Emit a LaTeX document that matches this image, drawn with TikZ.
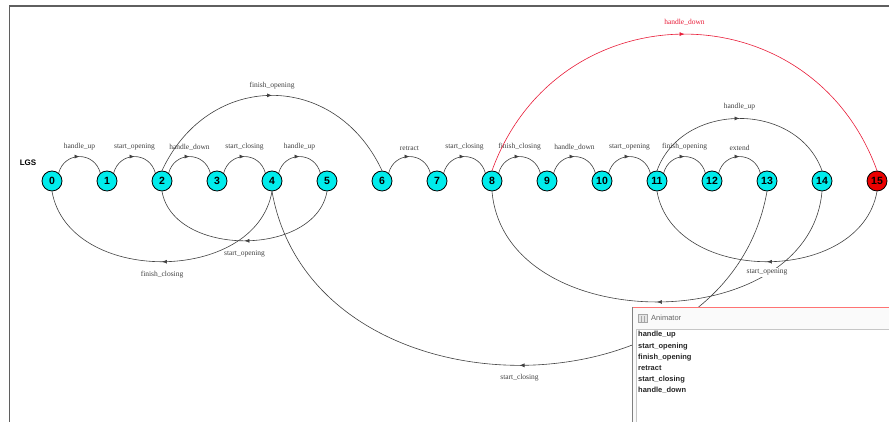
\documentclass[tikz,border=0pt]{standalone}
\usepackage{fontspec}
\setmainfont{Liberation Serif}
\setsansfont{Liberation Sans}
\usetikzlibrary{arrows.meta,decorations.markings}

\definecolor{lgsred}{RGB}{232,28,56}
\definecolor{statecyan}{RGB}{0,236,236}
\definecolor{statered}{RGB}{235,0,0}
\definecolor{framegray}{RGB}{95,95,95}
\newcommand{\lblsize}{\fontsize{7.5}{8}\selectfont}

\tikzset{
    state/.style={circle, draw=black, line width=0.8pt, fill=statecyan, minimum size=20pt, inner sep=0pt,
        font=\sffamily\bfseries\fontsize{10.5}{10.5}\selectfont},
    edge/.style={color=black!75, line width=0.6pt, postaction={decorate},
        decoration={markings, mark=at position 0.5 with {\arrow{Latex[length=5pt,width=4pt]}}}},
    lbl/.style={font=\lblsize, inner sep=1pt},
    listitem/.style={anchor=west, inner sep=0pt, text=black!85,
        font=\sffamily\bfseries\fontsize{7.5}{8}\selectfont}
}

\begin{document}
\begin{tikzpicture}[x=1pt, y=1pt]
        \useasboundingbox (0,0) rectangle (889,422);
        \draw[framegray, line width=1.5pt]
        (889,416) -- (9.5,416) -- (9.5,0);

        \node[font=\sffamily\bfseries\fontsize{8}{8}\selectfont] (lgs) at (28,259) {LGS};

        \node[state] (s0) at (52,241) {0};
        \node[state] (s1) at (107,241) {1};
        \node[state] (s2) at (162,241) {2};
        \node[state] (s3) at (217,241) {3};
        \node[state] (s4) at (272,241) {4};
        \node[state] (s5) at (327,241) {5};
        \node[state] (s6) at (382,241) {6};
        \node[state] (s7) at (437,241) {7};
        \node[state] (s8) at (492,241) {8};
        \node[state] (s9) at (547,241) {9};
        \node[state] (s10) at (602,241) {10};
        \node[state] (s11) at (657,241) {11};
        \node[state] (s12) at (712,241) {12};
        \node[state] (s13) at (767,241) {13};
        \node[state] (s14) at (822,241) {14};
        \node[state, fill=statered] (s15) at (877,241) {15};

        \draw[edge]
        (s0.50) to[out=75, in=105, looseness=1.4] node[lbl, above=5pt] {handle\_up} (s1.130);
        \draw[edge]
        (s1.50) to[out=75, in=105, looseness=1.4] node[lbl, above=5pt] {start\_opening} (s2.130);
        \draw[edge]
        (s2.50) to[out=75, in=105, looseness=1.4] node[lbl, above=5pt] {handle\_down} (s3.130);
        \draw[edge]
        (s3.50) to[out=75, in=105, looseness=1.4] node[lbl, above=5pt] {start\_closing} (s4.130);
        \draw[edge]
        (s4.50) to[out=75, in=105, looseness=1.4] node[lbl, above=5pt] {handle\_up} (s5.130);
        \draw[edge]
        (s6.50) to[out=75, in=105, looseness=1.4] node[lbl, above=5pt] {retract} (s7.130);
        \draw[edge]
        (s7.50) to[out=75, in=105, looseness=1.4] node[lbl, above=5pt] {start\_closing} (s8.130);
        \draw[edge]
        (s8.50) to[out=75, in=105, looseness=1.4] node[lbl, above=5pt] {finish\_closing} (s9.130);
        \draw[edge]
        (s9.50) to[out=75, in=105, looseness=1.4] node[lbl, above=5pt] {handle\_down} (s10.130);
        \draw[edge]
        (s10.50) to[out=75, in=105, looseness=1.4] node[lbl, above=5pt] {start\_opening} (s11.130);
        \draw[edge]
        (s11.50) to[out=75, in=105, looseness=1.4] node[lbl, above=5pt] {finish\_opening} (s12.130);
        \draw[edge]
        (s12.50) to[out=75, in=105, looseness=1.4] node[lbl, above=5pt] {extend} (s13.130);

        \draw[edge]
        (s2.north) to[out=65, in=115, looseness=1.29] node[lbl, above=5pt] {finish\_opening} (s6.north);
        \draw[edge]
        (s11.north) to[out=70, in=110, looseness=1.15] node[lbl, above=7pt] {handle\_up} (s14.north);
        \draw[edge, color=lgsred]
        (s8.north) to[out=70, in=110, looseness=1.29] node[lbl, above=7pt] {handle\_down} (s15.north);

        \draw[edge]
        (s4.south) to[out=-100, in=-80, looseness=1.11] node[lbl, below=8pt] {finish\_closing} (s0.south);
        \draw[edge]
        (s5.south) to[out=-100, in=-80, looseness=1.04] node[lbl, below=8pt] {start\_opening} (s2.south);
        \draw[edge]
        (s13.south) to[out=-100, in=-80, looseness=1.22] node[lbl, below=8pt] {start\_closing} (s4.south);
        \draw[edge]
        (s14.south) to[out=-95, in=-85, looseness=1.15] (s8.south);
        \draw[edge]
        (s15.south) to[out=-100, in=-80, looseness=1.11] node[lbl, below=6pt, fill=white] {start\_opening} (s11.south);

        \fill[gray!4] (632,0) rectangle (889,115);
        \fill[white] (636,0) rectangle (889,93);
        \draw[pink!60!red, line width=0.8pt]
        (632,115) -- (889,115);
        \draw[gray, line width=1pt]
        (632.5,115) -- (632.5,0);
        \draw[gray!45, line width=0.6pt]
        (636,93) -- (889,93) (636,93) -- (636,0);
        \draw[gray!70, fill=gray!20, line width=0.4pt]
        (638,100) rectangle (647,108);
        \draw[gray!70, line width=0.4pt]
        (641,100) -- (641,106) (644,100) -- (644,106);
        \node[anchor=west, inner sep=0pt, text=gray!80!black, font=\sffamily\fontsize{7.5}{8}\selectfont]
        (wintitle) at (651,104) {Animator};

        \node[listitem] (it1) at (638,87) {handle\_up};
        \node[listitem] (it2) at (638,75.5) {start\_opening};
        \node[listitem] (it3) at (638,64.5) {finish\_opening};
        \node[listitem] (it4) at (638,53.5) {retract};
        \node[listitem] (it5) at (638,42.5) {start\_closing};
        \node[listitem] (it6) at (638,31.5) {handle\_down};
    \end{tikzpicture}
\end{document}
